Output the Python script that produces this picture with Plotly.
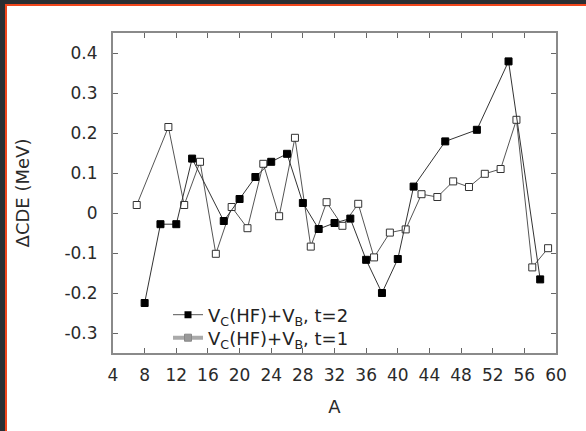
import plotly.graph_objects as go

# t=2 (filled squares)
A_t2 = [8, 10, 12, 14, 18, 20, 22, 24, 26, 28, 30, 32, 34, 36, 38, 40, 42, 46, 50, 54, 58]
cde_t2 = [-0.225, -0.028, -0.028, 0.136, -0.02, 0.035, 0.09, 0.128, 0.148, 0.025, -0.04, -0.025,
          -0.014, -0.117, -0.2, -0.115, 0.066, 0.179, 0.208, 0.379, -0.166]

# t=1 (open squares)
A_t1 = [7, 11, 13, 15, 17, 19, 21, 23, 25, 27, 29, 31, 33, 35, 37, 39, 41, 43, 45, 47, 49, 51, 53, 55, 57, 59]
cde_t1 = [0.02, 0.215, 0.02, 0.128, -0.102, 0.015, -0.038, 0.123, -0.008, 0.188, -0.084, 0.027,
          -0.032, 0.023, -0.111, -0.049, -0.041, 0.047, 0.04, 0.079, 0.065, 0.098, 0.11, 0.233, -0.136, -0.088]

name_t2 = "V<sub>C</sub>(HF)+V<sub>B</sub>, t=2"
name_t1 = "V<sub>C</sub>(HF)+V<sub>B</sub>, t=1"

x_ticks = list(range(4, 61, 4))
y_ticks = [-0.3, -0.2, -0.1, 0, 0.1, 0.2, 0.3, 0.4]
y_labels = ["-0.3", "-0.2", "-0.1", "0", "0.1", "0.2", "0.3", "0.4"]

FONT = "DejaVu Sans"

fig = go.Figure()

fig.add_trace(go.Scatter(
    x=A_t1, y=cde_t1, mode="lines+markers", showlegend=False,
    line=dict(color="#555555", width=1),
    marker=dict(symbol="square", size=7, color="white", line=dict(color="#333333", width=1)),
))
fig.add_trace(go.Scatter(
    x=A_t2, y=cde_t2, mode="lines+markers", showlegend=False,
    line=dict(color="#333333", width=1),
    marker=dict(symbol="square", size=7, color="black", line=dict(color="black", width=1)),
))
# legend entries
fig.add_trace(go.Scatter(
    x=[None], y=[None], mode="lines+markers", name=name_t2, legend="legend",
    line=dict(color="#555555", width=1),
    marker=dict(symbol="square", size=7, color="black"),
))
fig.add_trace(go.Scatter(
    x=[None], y=[None], mode="lines+markers", name=name_t1, legend="legend2",
    line=dict(color="#aaaaaa", width=4),
    marker=dict(symbol="square", size=7, color="#999999", line=dict(color="#888888", width=1)),
))

def px_x(p):
    return (p - 113) / 443.0

def px_y(p):
    return (353 - p) / 320.0

fig.add_shape(type="rect", xref="paper", yref="paper",
              x0=px_x(6), x1=px_x(620), y0=px_y(5), y1=px_y(460),
              fillcolor="white", line=dict(color="#f0461c", width=2), layer="below")

leg_common = dict(xanchor="left", yanchor="middle", bgcolor="rgba(0,0,0,0)",
                  font=dict(size=18, color="#222222"), borderwidth=0)

fig.update_layout(
    width=586, height=431,
    margin=dict(l=113, r=30, t=33, b=78),
    paper_bgcolor="#2a2f33",
    plot_bgcolor="white",
    font=dict(family=FONT, size=17, color="#2a2a2a"),
    legend=dict(x=px_x(168), y=px_y(315), **leg_common),
    legend2=dict(x=px_x(168), y=px_y(338), **leg_common),
    xaxis=dict(range=[4, 60], tickmode="array", tickvals=x_ticks,
               showgrid=False, zeroline=False, showline=True, linecolor="#8a8a8a", linewidth=2,
               mirror="ticks", ticks="inside", ticklen=5, tickcolor="#666666",
               ticklabelstandoff=6,
               title=dict(text="A", font=dict(size=18, color="#2a2a2a"), standoff=16)),
    yaxis=dict(range=[-0.35, 0.45], tickmode="array", tickvals=y_ticks, ticktext=y_labels,
               showgrid=False, zeroline=False, showline=True, linecolor="#8a8a8a", linewidth=2,
               mirror="ticks", ticks="inside", ticklen=5, tickcolor="#666666",
               ticklabelstandoff=10,
               title=dict(text="ΔCDE (MeV)", font=dict(size=18, color="#2a2a2a"), standoff=30)),
)

fig.write_html("out.html")
